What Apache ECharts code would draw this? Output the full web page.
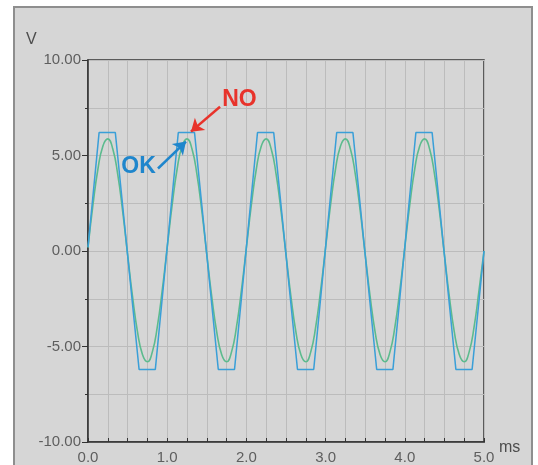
<!DOCTYPE html>
<html><head><meta charset="utf-8">
<script src="https://cdn.jsdelivr.net/npm/echarts@6/dist/echarts.min.js"></script>
<style>
html,body{margin:0;padding:0;background:#fff;overflow:hidden}
#frame{position:absolute;left:13px;top:6px;width:520px;height:480px;box-sizing:border-box;border:2px solid #8e8e8e;background:#d6d6d6}
#c{position:absolute;left:0;top:0;width:538px;height:465px}
</style></head>
<body><div id="frame"></div><div id="c"></div>
<script>
// time samples (ms) of the "OK" sine trace
const greenT = [
  0,0.0625,0.125,0.1875,0.25,0.3125,0.375,0.4375,0.5,0.5625,0.625,0.6875,0.75,0.8125,0.875,0.9375,
  1,1.0625,1.125,1.1875,1.25,1.3125,1.375,1.4375,1.5,1.5625,1.625,1.6875,1.75,1.8125,1.875,1.9375,
  2,2.0625,2.125,2.1875,2.25,2.3125,2.375,2.4375,2.5,2.5625,2.625,2.6875,2.75,2.8125,2.875,2.9375,
  3,3.0625,3.125,3.1875,3.25,3.3125,3.375,3.4375,3.5,3.5625,3.625,3.6875,3.75,3.8125,3.875,3.9375,
  4,4.0625,4.125,4.1875,4.25,4.3125,4.375,4.4375,4.5,4.5625,4.625,4.6875,4.75,4.8125,4.875,4.9375,
  5
];
// voltage (V) of the "OK" sine trace
const greenV = [
  0.18,2.41,4.28,5.49,5.87,5.35,4.02,2.08,-0.18,-2.39,-4.23,-5.42,-5.80,-5.28,-3.97,-2.05,
  0.18,2.41,4.28,5.49,5.87,5.35,4.02,2.08,-0.18,-2.39,-4.23,-5.42,-5.80,-5.28,-3.97,-2.05,
  0.18,2.41,4.28,5.49,5.87,5.35,4.02,2.08,-0.18,-2.39,-4.23,-5.42,-5.80,-5.28,-3.97,-2.05,
  0.18,2.41,4.28,5.49,5.87,5.35,4.02,2.08,-0.18,-2.39,-4.23,-5.42,-5.80,-5.28,-3.97,-2.05,
  0.18,2.41,4.28,5.49,5.87,5.35,4.02,2.08,-0.18,-2.39,-4.23,-5.42,-5.80,-5.28,-3.97,-2.05,
  0.0
];
// clipped ("NO") trace: corner times (ms) and voltages (V)
const blueT = [0,0.14,0.345,0.645,0.85,1.14,1.345,1.645,1.85,2.14,2.345,2.645,2.85,3.14,3.345,3.645,3.85,4.14,4.345,4.645,4.85,5.0];
const blueV = [0.2,6.2,6.2,-6.2,-6.2,6.2,6.2,-6.2,-6.2,6.2,6.2,-6.2,-6.2,6.2,6.2,-6.2,-6.2,6.2,6.2,-6.2,-6.2,0.0];
// annotations: text label positions and arrow [tail, head] in data units
const noLabel = {text:'NO', at:[1.913, 7.92]};
const okLabel = {text:'OK', at:[0.638, 4.43]};
const noArrow = [[1.667, 7.55],[1.30, 6.25]];
const okArrow = [[0.884, 4.32],[1.237, 5.73]];

const green = greenT.map((t,i)=>[t, greenV[i]]);
const blue = blueT.map((t,i)=>[t, blueV[i]]);

const FONT = 'Liberation Sans, Arial, sans-serif';
const chart = echarts.init(document.getElementById('c'), null, {renderer:'canvas'});
const axisFont = {color:'#5e5e5e', fontSize:15, fontFamily:FONT};
chart.setOption({
  animation:false,
  backgroundColor:'transparent',
  grid:{left:88, top:60, right:54, bottom:21, show:true, backgroundColor:'#d6d6d6', borderColor:'#333', borderWidth:1.5, containLabel:false},
  xAxis:{type:'value', min:0, max:5, interval:1,
    axisLine:{show:true, onZero:false, lineStyle:{color:'#333', width:1.5}},
    axisTick:{show:true, inside:true, length:4, lineStyle:{color:'#333'}},
    minorTick:{show:true, splitNumber:4, length:4, lineStyle:{color:'#333'}},
    splitLine:{show:true, lineStyle:{color:'#bcbcbc', width:1}},
    minorSplitLine:{show:true, lineStyle:{color:'#bcbcbc', width:1}},
    axisLabel:Object.assign({margin:8, formatter:v=>v.toFixed(1)}, axisFont)
  },
  yAxis:{type:'value', min:-10, max:10, interval:5,
    axisLine:{show:true, onZero:false, lineStyle:{color:'#333', width:1.5}},
    axisTick:{show:true, inside:false, length:6, lineStyle:{color:'#333'}},
    minorTick:{show:true, splitNumber:2, length:3, lineStyle:{color:'#333'}},
    splitLine:{show:true, lineStyle:{color:'#bcbcbc', width:1}},
    minorSplitLine:{show:true, lineStyle:{color:'#bcbcbc', width:1}},
    axisLabel:Object.assign({margin:7, formatter:v=>v.toFixed(2)}, axisFont)
  },
  series:[
    {type:'line', data:green, smooth:true, showSymbol:false, symbol:'none',
     lineStyle:{color:'#5cbb8e', width:1.6}, z:3,
     markPoint:{silent:true, symbol:'rect', symbolSize:1, itemStyle:{color:'rgba(0,0,0,0)'},
       data:[{coord:okLabel.at, label:{show:true, position:'inside', formatter:okLabel.text, color:'#1f86cc', fontSize:23, fontWeight:'bold', fontFamily:FONT}}]},
     markLine:{silent:true, symbol:['none','arrow'], symbolSize:12, label:{show:false},
       lineStyle:{color:'#1f86cc', width:2.5, type:'solid'},
       data:[[{coord:okArrow[0]},{coord:okArrow[1]}]]}
    },
    {type:'line', data:blue, smooth:false, showSymbol:false, symbol:'none',
     lineStyle:{color:'#3a9fd8', width:1.5}, z:4,
     markPoint:{silent:true, symbol:'rect', symbolSize:1, itemStyle:{color:'rgba(0,0,0,0)'},
       data:[{coord:noLabel.at, label:{show:true, position:'inside', formatter:noLabel.text, color:'#e8332b', fontSize:23, fontWeight:'bold', fontFamily:FONT}}]},
     markLine:{silent:true, symbol:['none','arrow'], symbolSize:12, label:{show:false},
       lineStyle:{color:'#e8332b', width:2.5, type:'solid'},
       data:[[{coord:noArrow[0]},{coord:noArrow[1]}]]}
    }
  ],
  graphic:[
    {type:'text', left:26, top:32, style:{text:'V', fill:'#4d4d4d', font:'16px '+FONT}},
    {type:'text', left:499, top:440, style:{text:'ms', fill:'#4d4d4d', font:'16px '+FONT}}
  ]
});
</script></body></html>
